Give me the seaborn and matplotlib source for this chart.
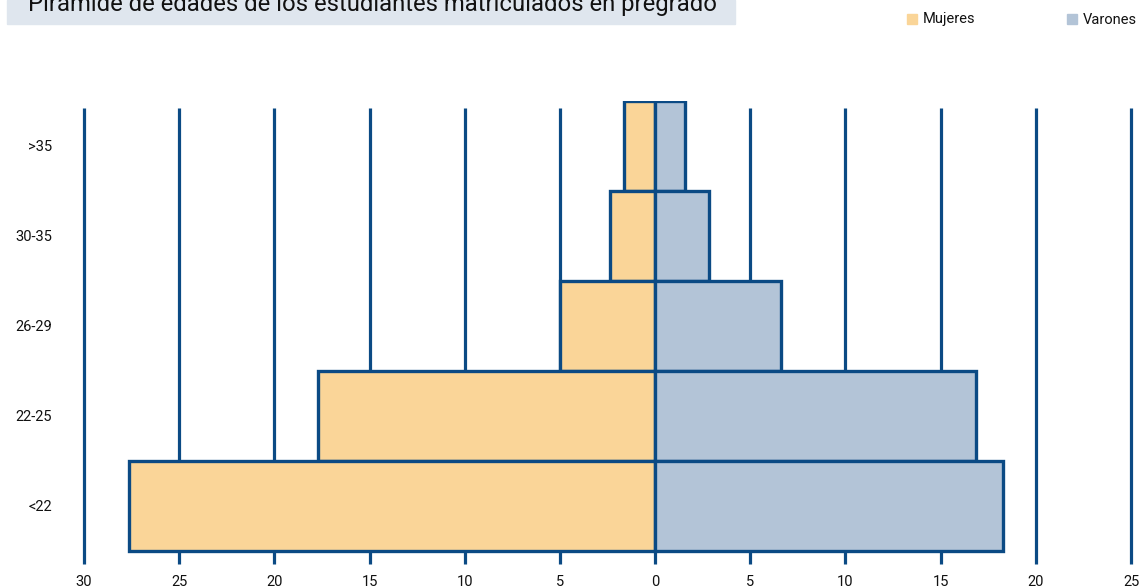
import numpy as np
import pandas as pd
import matplotlib
matplotlib.use("Agg")
import matplotlib.pyplot as plt
from matplotlib.patches import Rectangle
import seaborn as sns

grupos = [">35", "30-35", "26-29", "22-25", "<22"]
mujeres = [1.65, 2.35, 5.0, 17.7, 27.65]
varones = [1.55, 2.85, 6.6, 16.85, 18.3]
ticks = [-30, -25, -20, -15, -10, -5, 0, 5, 10, 15, 20, 25]
tick_labels = ["30", "25", "20", "15", "10", "5", "0", "5", "10", "15", "20", "25"]
titulo = "Pirámide de edades de los estudiantes matriculados en pregrado"

c_muj = "#fad598"
c_var = "#b3c4d7"
navy = "#0b4a84"

sns.set_style("white")
plt.rcParams['font.family'] = ['Roboto', 'DejaVu Sans']

df = pd.DataFrame({
    "grupo": grupos * 2,
    "valor": [-m for m in mujeres] + varones,
    "sexo": ["Mujeres"] * len(grupos) + ["Varones"] * len(grupos),
})

W, H = 1142, 588
fig = plt.figure(figsize=(W / 100, H / 100), dpi=100)
ax = fig.add_axes([84 / W, 1 - 564 / H, (1131 - 84) / W, (564 - 101) / H])

# grid lines behind bars
ax.vlines(ticks, -0.42, 4.65, color=navy, lw=2.3, zorder=0, clip_on=False)

sns.barplot(data=df, x="valor", y="grupo", hue="sexo", order=grupos,
            palette={"Mujeres": c_muj, "Varones": c_var}, dodge=False,
            saturation=1, width=1.0, edgecolor=navy, linewidth=2.4,
            orient="h", legend=False, ax=ax)
for p in ax.patches:
    p.set_zorder(2)

ax.set_xlim(-30, 25)
ax.set_ylim(4.65, -0.5)
ax.set_xticks(ticks)
ax.set_xticklabels(tick_labels)
ax.set_xlabel("")
ax.set_ylabel("")
ax.tick_params(axis="x", length=0, pad=8, labelsize=10.5, colors="#111111")
ax.tick_params(axis="y", length=0, pad=23, labelsize=10.5, colors="#111111")
for s in ax.spines.values():
    s.set_visible(False)

# title box
fig.patches.append(Rectangle((7 / W, 1 - 24 / H), (735 - 7) / W, 24 / H,
                             transform=fig.transFigure, color="#dfe6ee", zorder=0))
fig.text(28 / W, 1 - 11 / H, titulo, fontsize=17.2, color="#111111",
         va="baseline", ha="left")

# legend
for x0, lab, col in [(907, "Mujeres", c_muj), (1067, "Varones", c_var)]:
    fig.patches.append(Rectangle((x0 / W, 1 - 24 / H), 10 / W, 10 / H,
                                 transform=fig.transFigure, color=col))
    fig.text((x0 + 16) / W, 1 - 19.5 / H, lab, fontsize=10.5, color="#111111",
             va="center", ha="left")

fig.savefig("out.png", dpi=100)
